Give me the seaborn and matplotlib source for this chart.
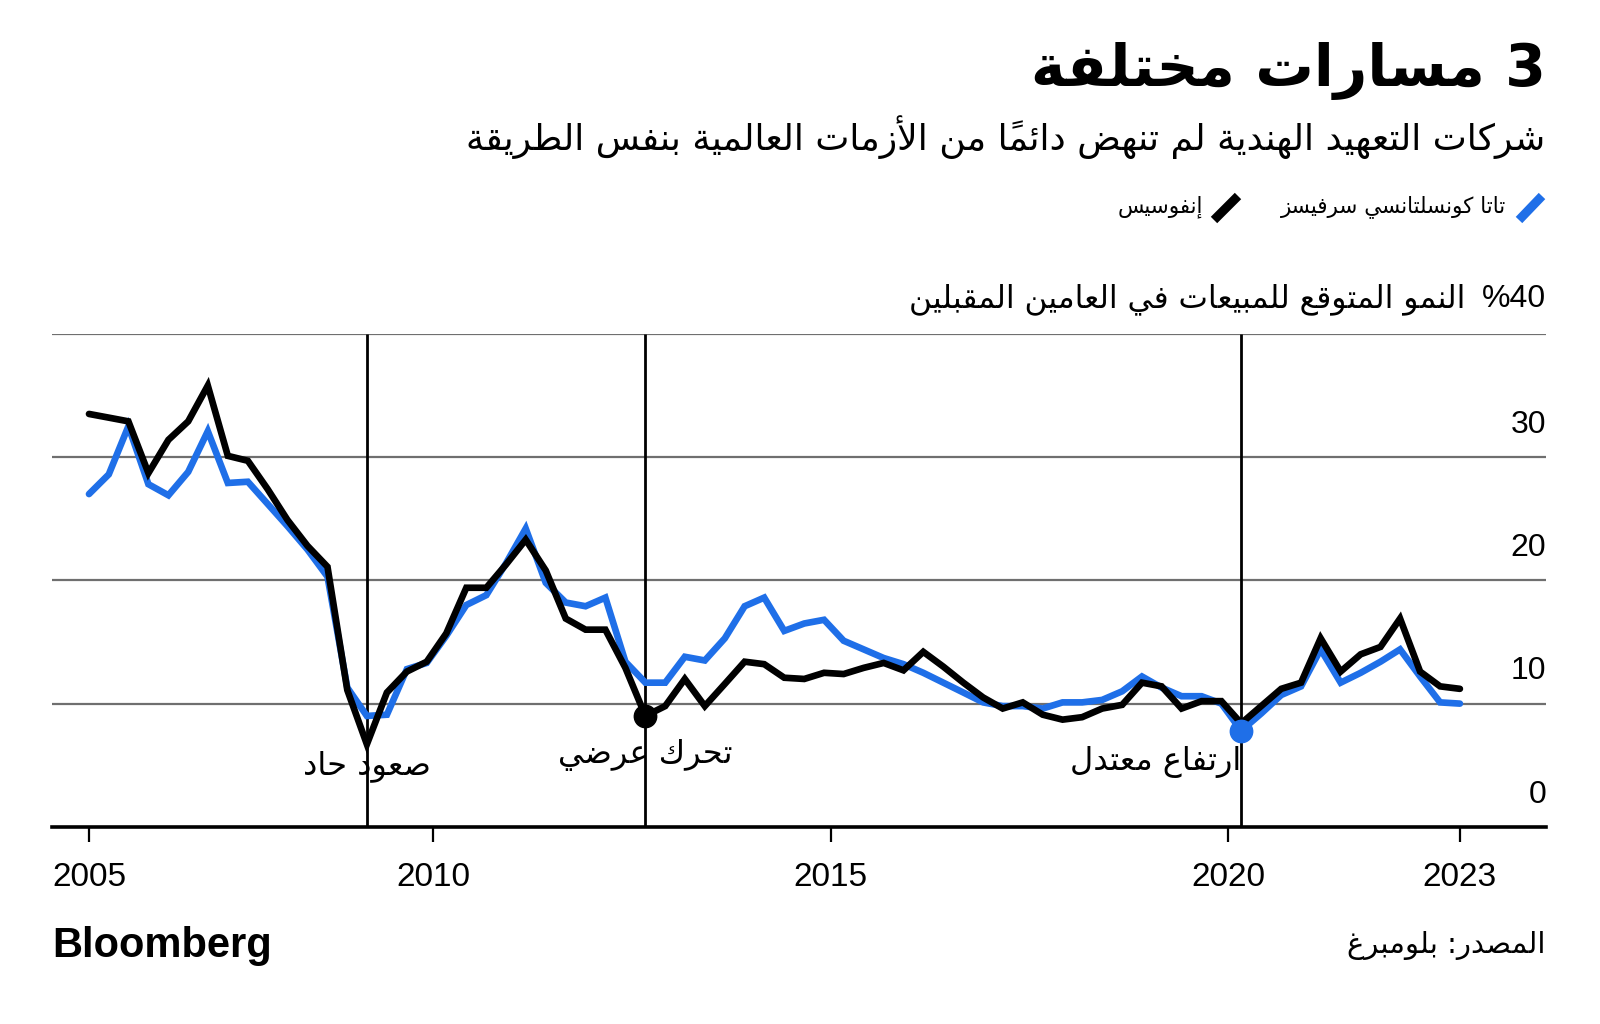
import numpy as np
import pandas as pd
import seaborn as sns
from matplotlib import pyplot as plt
from matplotlib.lines import Line2D

# ---- data (quarterly) ----
dates = pd.date_range("2005-09-01", periods=70, freq="3MS")
tcs = [27.0, 28.6, 32.5, 27.8, 26.9, 28.8, 32.1, 27.9, 28.0, 26.2,
       24.4, 22.5, 20.3, 11.3, 9.0, 9.1, 12.8, 13.3, 15.5, 18.0,
       18.8, 21.4, 24.2, 19.8, 18.2, 17.9, 18.6, 13.4, 11.7, 11.7,
       13.8, 13.5, 15.3, 17.9, 18.6, 15.9, 16.5, 16.8, 15.1, 14.4,
       13.7, 13.2, 12.5, 11.7, 10.9, 10.1, 9.8, 9.8, 9.6, 10.1,
       10.1, 10.3, 11.0, 12.2, 11.3, 10.6, 10.6, 10.0, 7.8, 9.2,
       10.7, 11.4, 14.4, 11.7, 12.5, 13.4, 14.4, 12.2, 10.1, 10.0]
infosys = [33.5, 33.2, 32.9, 28.7, 31.4, 32.9, 35.8, 30.1, 29.7, 27.4,
           24.9, 22.8, 21.1, 11.1, 6.7, 10.9, 12.6, 13.4, 15.7, 19.4,
           19.4, 21.3, 23.3, 20.8, 16.9, 16.0, 16.0, 12.9, 9.0, 9.8,
           12.0, 9.8, 11.6, 13.4, 13.2, 12.1, 12.0, 12.5, 12.4, 12.9,
           13.3, 12.7, 14.2, 13.0, 11.7, 10.5, 9.6, 10.1, 9.1, 8.7,
           8.9, 9.6, 9.9, 11.7, 11.4, 9.6, 10.2, 10.2, 8.4, 9.8,
           11.2, 11.7, 15.3, 12.6, 14.0, 14.6, 16.9, 12.6, 11.4, 11.2]
companies = ["تاتا كونسلتانسي سرفيسز", "إنفوسيس"]
colors = ["#1f6fe8", "#000000"]
events = [14, 28, 58]
event_labels = ["صعود حاد", "تحرك عرضي", "ارتفاع معتدل"]
yticks = [0, 10, 20, 30]
xtick_labels = ["2005", "2010", "2015", "2020", "2023"]

title = "3 مسارات مختلفة"
subtitle = "شركات التعهيد الهندية لم تنهض دائماً من الأزمات العالمية بنفس الطريقة"
ylabel = "النمو المتوقع للمبيعات في العامين المقبلين"
ytop = "%40"
source = "المصدر: بلومبرغ"


# ---- small arabic shaper (matplotlib has no complex text layout) ----
def _forms():
    seq = [(0x621, 1), (0x622, 2), (0x623, 2), (0x624, 2), (0x625, 2), (0x626, 4),
           (0x627, 2), (0x628, 4), (0x629, 2), (0x62A, 4), (0x62B, 4), (0x62C, 4),
           (0x62D, 4), (0x62E, 4), (0x62F, 2), (0x630, 2), (0x631, 2), (0x632, 2),
           (0x633, 4), (0x634, 4), (0x635, 4), (0x636, 4), (0x637, 4), (0x638, 4),
           (0x639, 4), (0x63A, 4), (0x641, 4), (0x642, 4), (0x643, 4), (0x644, 4),
           (0x645, 4), (0x646, 4), (0x647, 4), (0x648, 2), (0x649, 2), (0x64A, 4)]
    out, code = {}, 0xFE80
    for cp, n in seq:
        out[chr(cp)] = [chr(code + i) for i in range(n)]
        code += n
    return out


FORMS = _forms()
LAM_ALEF = {"\u0622": "\uFEF5", "\u0623": "\uFEF7", "\u0625": "\uFEF9", "\u0627": "\uFEFB"}
MARKS = set(chr(c) for c in range(0x64B, 0x653))


def ar(text):
    units = []
    i = 0
    while i < len(text):
        ch = text[i]
        if ch in MARKS and units:
            units[-1][1] += ch
        elif ch == "\u0644" and i + 1 < len(text) and text[i + 1] in LAM_ALEF:
            units.append(["LA" + text[i + 1], ""])
            i += 1
        else:
            units.append([ch, ""])
        i += 1

    def jtype(u):
        c = u[0]
        if c.startswith("LA"):
            return "R"
        if c in FORMS:
            return {4: "D", 2: "R", 1: "U"}[len(FORMS[c])]
        return None

    types = [jtype(u) for u in units]
    glyphs = []
    for k, u in enumerate(units):
        t = types[k]
        prev = k > 0 and types[k - 1] == "D" and t in ("D", "R")
        nxt = t == "D" and k + 1 < len(units) and types[k + 1] in ("D", "R")
        c = u[0]
        if c.startswith("LA"):
            g = chr(ord(LAM_ALEF[c[2]]) + (1 if prev else 0))
        elif t == "D":
            g = FORMS[c][3 if prev and nxt else 1 if prev else 2 if nxt else 0]
        elif t == "R":
            g = FORMS[c][1 if prev else 0]
        elif t == "U":
            g = FORMS[c][0]
        else:
            g = c
        glyphs.append((g + u[1], t is None and (c.isascii() and (c.isalnum() or c in "%."))))

    # visual order: reverse, keep latin/digit runs left-to-right
    tokens = []
    for g, ltr in glyphs:
        if ltr and tokens and tokens[-1][1]:
            tokens[-1][0] += g
        else:
            tokens.append([g, ltr])
    return "".join(t[0] for t in reversed(tokens))


# ---- plot ----
sns.set_theme(style="white")
plt.rcParams["font.family"] = ["DejaVu Sans"]
plt.rcParams["text.color"] = "black"
plt.rcParams["xtick.color"] = "black"
plt.rcParams["lines.solid_joinstyle"] = "miter"
num_font = ["Liberation Sans", "DejaVu Sans"]

df = pd.DataFrame({
    "date": np.tile(dates, 2),
    "growth": tcs + infosys,
    "company": np.repeat(companies, len(dates)),
})

fig = plt.figure(figsize=(16, 10.24), dpi=100)
ax = fig.add_axes([0.0325, 0.1925, 0.9338, 0.4815])

for v in [10, 20, 30, 40]:
    ax.axhline(v, color="#6f6f6f", lw=1.6, zorder=1)
ax.vlines(dates[events], 0, 40, color="black", lw=2, zorder=2)

sns.lineplot(data=df, x="date", y="growth", hue="company", hue_order=companies,
             palette=colors, linewidth=4.8, legend=False, estimator=None, ax=ax, zorder=3)

# event dots
ax.scatter([dates[events[1]]], [infosys[events[1]]], s=260, color=colors[1], zorder=4)
ax.scatter([dates[events[2]]], [tcs[events[2]]], s=260, color=colors[0], zorder=4)

# event labels
for idx, lab, ha, y in zip(events, event_labels, ["center", "center", "right"], [4.9, 5.8, 5.3]):
    ax.text(dates[idx], y, ar(lab), ha=ha, va="center", fontsize=23, color="black", zorder=5)

ax.set_xlim(pd.Timestamp("2005-03-15"), pd.Timestamp("2024-01-01"))
ax.set_ylim(0, 40)
ax.set_xticks([dates[0], pd.Timestamp("2010-01-01"), pd.Timestamp("2015-01-01"),
               pd.Timestamp("2020-01-01"), dates[-1]])
ax.set_xticklabels(xtick_labels, fontsize=24, family=num_font)
ax.tick_params(axis="x", direction="out", length=11, width=1.6, color="black", pad=14, bottom=True)
ax.set_yticks([])
ax.set_xlabel("")
ax.set_ylabel("")
for s in ["top", "left", "right"]:
    ax.spines[s].set_visible(False)
ax.spines["bottom"].set_color("black")
ax.spines["bottom"].set_linewidth(2.6)

for v in yticks:
    ax.text(1.0, v + 1.4, str(v), transform=ax.get_yaxis_transform(), ha="right", va="bottom",
            fontsize=23, family=num_font)

# header
fig.text(0.966, 0.931, ar(title), ha="right", va="center", fontsize=42, fontweight="bold")
fig.text(0.966, 0.866, ar(subtitle), ha="right", va="center", fontsize=26)

fig.add_artist(Line2D([1519 / 1600, 1542 / 1600], [1 - 220 / 1024, 1 - 196 / 1024],
                      color=colors[0], lw=6.5, solid_capstyle="butt"))
fig.text(1506 / 1600, 1 - 207 / 1024, ar(companies[0]), ha="right", va="center", fontsize=15.5)
fig.add_artist(Line2D([1214 / 1600, 1238 / 1600], [1 - 220 / 1024, 1 - 196 / 1024],
                      color=colors[1], lw=6.5, solid_capstyle="butt"))
fig.text(1203 / 1600, 1 - 207 / 1024, ar(companies[1]), ha="right", va="center", fontsize=15.5)

fig.text(0.966, 1 - 299 / 1024, ytop, ha="right", va="center", fontsize=23, family=num_font)
fig.text(1465 / 1600, 1 - 299 / 1024, ar(ylabel), ha="right", va="center", fontsize=22.5)

# footer
fig.text(52 / 1600, 1 - 946 / 1024, "Bloomberg", ha="left", va="center", fontsize=30,
         fontweight="bold", family=num_font)
fig.text(0.966, 1 - 946 / 1024, ar(source), ha="right", va="center", fontsize=21)

fig.savefig("out.png", dpi=100, facecolor="white")
